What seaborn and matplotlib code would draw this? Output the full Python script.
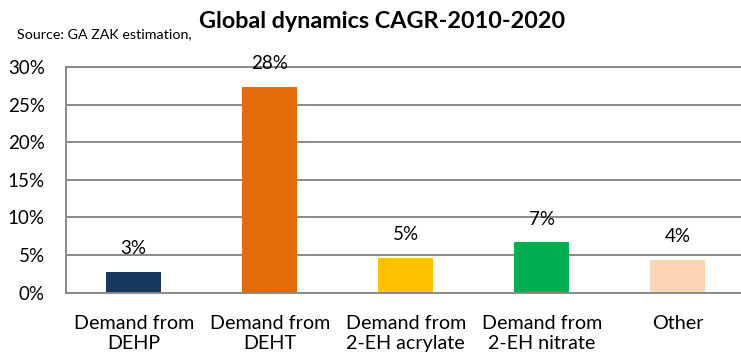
import matplotlib
matplotlib.use("Agg")
import matplotlib.pyplot as plt
import seaborn as sns
import pandas as pd

# CAGR 2010-2020 by demand segment (fractions)
categories = ["Demand from\nDEHP", "Demand from\nDEHT", "Demand from\n2-EH acrylate",
              "Demand from\n2-EH nitrate", "Other"]
cagr = [0.0275, 0.274, 0.0465, 0.0667, 0.0437]
value_labels = ["3%", "28%", "5%", "7%", "4%"]
bar_colors = ["#17375E", "#E36C09", "#FFC000", "#00B050", "#FCD5B5"]
y_ticks = [0.0, 0.05, 0.10, 0.15, 0.20, 0.25, 0.30]
y_tick_labels = ["0%", "5%", "10%", "15%", "20%", "25%", "30%"]

sns.set_theme(style="white")
plt.rcParams["font.family"] = ["Lato", "DejaVu Sans"]

W, H = 741, 355
fig = plt.figure(figsize=(W / 100, H / 100), dpi=100)
ax = fig.add_axes([65.7 / W, (H - 292.5) / H, 680 / W, 225.2 / H])

df = pd.DataFrame({"segment": categories, "cagr": cagr})
sns.barplot(data=df, x="segment", y="cagr", hue="segment", palette=bar_colors,
            width=0.405, saturation=1, legend=False, linewidth=0, ax=ax)

grid_color = "#8a8a8a"
ax.set_ylim(0, 0.30)
ax.set_xlim(-0.5, len(categories) - 0.5)
ax.set_yticks(y_ticks)
ax.set_yticklabels(y_tick_labels)
ax.yaxis.grid(True, color=grid_color, linewidth=1.4)
ax.set_axisbelow(True)
ax.set_xlabel("")
ax.set_ylabel("")
ax.tick_params(axis="y", length=0, pad=15, labelsize=13.5, colors="#000000")
ax.tick_params(axis="x", length=0, pad=16, labelsize=14.2, colors="#000000")
for lbl in ax.get_xticklabels():
    lbl.set_linespacing(1.2)

for side in ["left", "bottom", "top"]:
    ax.spines[side].set_visible(True)
    ax.spines[side].set_color(grid_color)
    ax.spines[side].set_linewidth(1.4)
ax.spines["right"].set_visible(False)

for i, (v, txt) in enumerate(zip(cagr, value_labels)):
    ax.annotate(txt, (i, v), xytext=(0, 12.5), textcoords="offset points",
                ha="center", va="baseline", fontsize=13.5, color="#000000")

fig.text(382 / W, 1 - 28 / H, "Global dynamics CAGR-2010-2020", ha="center",
         va="baseline", fontsize=16.8, fontweight="bold", color="#000000")
fig.text(17 / W, 1 - 37.7 / H, "Source: GA ZAK estimation,", ha="left",
         va="baseline", fontsize=10.3, color="#000000")

fig.savefig("out.png", dpi=100)
